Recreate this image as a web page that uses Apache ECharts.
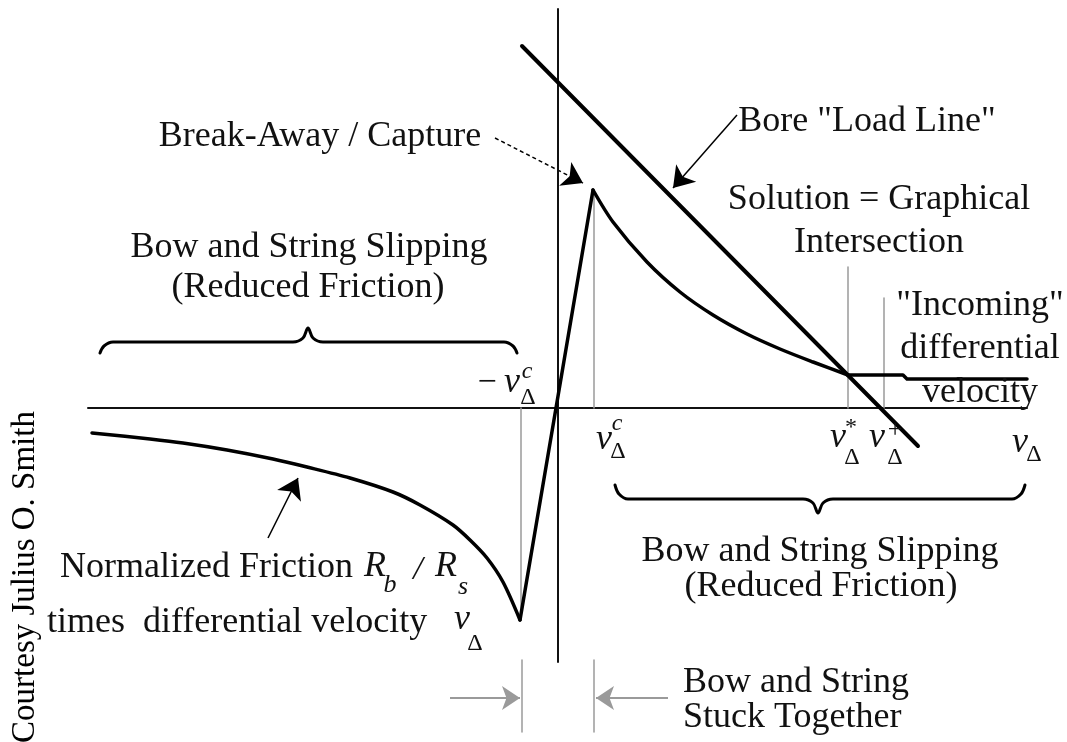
<!DOCTYPE html>
<html>
<head>
<meta charset="utf-8">
<title>Bow-String Friction</title>
<script src="https://cdn.jsdelivr.net/npm/echarts@6/dist/echarts.min.js"></script>
<style>
    html, body {margin: 0; padding: 0; background: #fff;}
    #chart {width: 1067px; height: 742px;}
</style>
</head>
<body>
<div id="chart"></div>
<script>
// friction curve (differential velocity v, normalized friction R)
var frictionV = [-4.66, -4.08, -3.75, -3.31, -2.85, -2.51, -2.08, -1.65, -1.38, -1.05, -0.88, -0.71, -0.55, -0.38,
    0.35, 0.55, 0.89, 1.22, 1.55, 1.89, 2.22, 2.55, 2.90, 3.45, 3.49, 4.69];
var frictionR = [-0.25, -0.31, -0.35, -0.42, -0.51, -0.59, -0.70, -0.84, -0.97, -1.17, -1.32, -1.50, -1.74, -2.12,
    2.18, 1.86, 1.46, 1.16, 0.93, 0.74, 0.59, 0.46, 0.33, 0.33, 0.29, 0.29];
var minIndex = 13;   // bottom of the dip
var peakIndex = 14;  // break-away peak
var flatIndex = 22;  // start of the flat tail

// bore load line
var loadV = [-0.36, 3.60];
var loadR = [3.62, -0.38];

// axes extents
var hAxisV = [-4.70, 4.69];
var vAxisR = [3.99, -2.54];

// thin gray markers: -vc, vc, v*, v+
var markerV = [-0.37, 0.36, 2.90, 3.26];
var markerTop = [0, 2.16, 1.41, 1.10];
var markerBottom = [-2.07, 0, 0, 0];

// "stuck together" region
var stuckV = [-0.36, 0.36];
var stuckTop = -2.52;
var stuckBottom = -3.24;
var stuckArrowFrom = [-1.08, 1.10];
var stuckArrowR = -2.90;

// braces
var braceLeftV = [-4.58, -4.54, -4.45, -2.65, -2.55, -2.50, -2.45, -2.35, -0.54, -0.45, -0.41];
var braceLeftR = [0.55, 0.62, 0.66, 0.66, 0.70, 0.80, 0.70, 0.66, 0.66, 0.62, 0.55];
var braceRightV = [0.57, 0.61, 0.70, 2.45, 2.55, 2.60, 2.65, 2.75, 4.54, 4.63, 4.67];
var braceRightR = [-0.77, -0.86, -0.91, -0.91, -0.95, -1.05, -0.95, -0.91, -0.91, -0.86, -0.77];

// pointer arrows [fromV, fromR, toV, toR]
var breakArrow = [-0.63, 2.70, 0.25, 2.25];
var boreArrow = [1.79, 2.93, 1.15, 2.20];
var frictionArrow = [-2.90, -1.30, -2.60, -0.70];

// annotation texts and their anchors
var noteText = ['Break-Away / Capture', 'Bore "Load Line"', 'Solution = Graphical', 'Intersection',
    'Bow and String Slipping', '(Reduced Friction)', '"Incoming"', 'differential', 'velocity',
    'Bow and String Slipping', '(Reduced Friction)', 'Bow and String', 'Stuck Together',
    'Normalized Friction', 'times  differential velocity'];
var noteV = [-2.38, 3.09, 3.21, 3.21, -2.49, -2.50, 4.22, 4.22, 4.22, 2.62, 2.63, 1.25, 1.25, -4.98, -5.11];
var noteR = [2.71, 2.86, 2.08, 1.65, 1.60, 1.20, 1.02, 0.59, 0.15, -1.44, -1.79, -2.75, -3.10, -1.60, -2.15];
var noteAlign = ['center', 'center', 'center', 'center', 'center', 'center', 'center', 'center', 'center',
    'center', 'center', 'left', 'left', 'left', 'left'];

// math symbols
var mathText = ['\u2212', 'v', 'c', '\u0394', 'v', 'c', '\u0394', 'v', '*', '\u0394', 'v', '+', '\u0394', 'v', '\u0394',
    'R', 'b', '/', 'R', 's', 'v', '\u0394'];
var mathV = [-0.71, -0.46, -0.31, -0.30, 0.46, 0.59, 0.60, 2.80, 2.93, 2.94, 3.19, 3.37, 3.37, 4.62, 4.76,
    -1.83, -1.68, -1.40, -1.12, -0.95, -0.96, -0.83];
var mathR = [0.25, 0.25, 0.36, 0.10, -0.32, -0.16, -0.44, -0.30, -0.20, -0.50, -0.30, -0.22, -0.50, -0.35, -0.47,
    -1.59, -1.77, -1.62, -1.59, -1.79, -2.12, -2.36];
var mathSize = [34, 36, 24, 24, 36, 24, 24, 36, 24, 24, 36, 26, 24, 36, 24, 36, 26, 34, 36, 26, 36, 24];

var credit = 'Courtesy Julius O. Smith';

var serif = '"Liberation Serif", "DejaVu Serif", serif';

function zip(a, b) {
    return a.map(function (v, i) { return [v, b[i]]; });
}

var chart = echarts.init(document.getElementById('chart'));

var series = [];

function plainLine(data, color, width, dash, smooth) {
    series.push({
        type: 'line', data: data, symbol: 'none', smooth: smooth || false, silent: true,
        lineStyle: {color: color, width: width, type: dash || 'solid', cap: 'round', join: 'round'}
    });
}

// axes
plainLine([[hAxisV[0], 0], [hAxisV[1], 0]], '#111', 2);
plainLine([[0, vAxisR[0]], [0, vAxisR[1]]], '#111', 2);

// gray markers
markerV.forEach(function (v, i) {
    plainLine([[v, markerTop[i]], [v, markerBottom[i]]], '#9a9a9a', 1.5);
});
stuckV.forEach(function (v) {
    plainLine([[v, stuckTop], [v, stuckBottom]], '#9a9a9a', 1.5);
});

// friction curve: slipping branches are smooth, stuck part is straight
var friction = zip(frictionV, frictionR);
plainLine(friction.slice(0, minIndex + 1), '#000', 3.5, 'solid', 0.3);
plainLine(friction.slice(minIndex, peakIndex + 1), '#000', 3.5);
plainLine(friction.slice(peakIndex, flatIndex + 1), '#000', 3.5, 'solid', 0.3);
plainLine(friction.slice(flatIndex), '#000', 3.5);
plainLine(zip(loadV, loadR), '#000', 4);

// braces
plainLine(zip(braceLeftV, braceLeftR), '#000', 3, 'solid', 0.35);
plainLine(zip(braceRightV, braceRightR), '#000', 3, 'solid', 0.35);

// arrows
function arrow(a, color, width, dash, size) {
    series.push({
        type: 'lines', coordinateSystem: 'cartesian2d', silent: true,
        symbol: ['none', 'arrow'], symbolSize: size,
        lineStyle: {color: color, width: width, type: dash || 'solid', opacity: 1},
        data: [{coords: [[a[0], a[1]], [a[2], a[3]]]}]
    });
}
arrow(breakArrow, '#000', 1.5, [4, 3], [11, 20]);
arrow(boreArrow, '#000', 1.5, 'solid', [11, 20]);
arrow(frictionArrow, '#000', 1.5, 'solid', [11, 20]);
stuckArrowFrom.forEach(function (v, i) {
    arrow([v, stuckArrowR, stuckV[i] + (i ? 0.02 : -0.02), stuckArrowR], '#9a9a9a', 2, 'solid', [10, 18]);
});

// text annotations
series.push({
    type: 'scatter', symbolSize: 0, silent: true, z: 5, itemStyle: {opacity: 1},
    label: {show: true, position: 'inside', formatter: '{b}', color: '#111',
        fontFamily: serif, fontSize: 36, verticalAlign: 'middle'},
    data: noteText.map(function (t, i) {
        return {name: t, value: [noteV[i], noteR[i]], label: {align: noteAlign[i]}};
    })
});

series.push({
    type: 'scatter', symbolSize: 0, silent: true, z: 5, itemStyle: {opacity: 1},
    label: {show: true, position: 'inside', formatter: '{b}', color: '#111',
        fontFamily: serif, align: 'center', verticalAlign: 'middle'},
    data: mathText.map(function (t, i) {
        var italic = /[a-zA-Z\/]/.test(t);
        return {name: t, value: [mathV[i], mathR[i]],
            label: {fontSize: mathSize[i], fontStyle: italic ? 'italic' : 'normal'}};
    })
});

// rotated credit
series.push({
    type: 'scatter', symbolSize: 0, silent: true, z: 5, itemStyle: {opacity: 1},
    label: {show: true, position: 'inside', formatter: '{b}', color: '#000',
        fontFamily: serif, fontSize: 33, rotate: 90, align: 'center', verticalAlign: 'middle'},
    data: [{name: credit, value: [-5.33, -1.69]}]
});

chart.setOption({
    animation: false,
    backgroundColor: '#fff',
    grid: {left: 0, right: 0, top: 0, bottom: 0},
    xAxis: {type: 'value', min: -5.58, max: 5.09, show: false},
    yAxis: {type: 'value', min: -3.34, max: 4.08, show: false},
    series: series
});
</script>
</body>
</html>
